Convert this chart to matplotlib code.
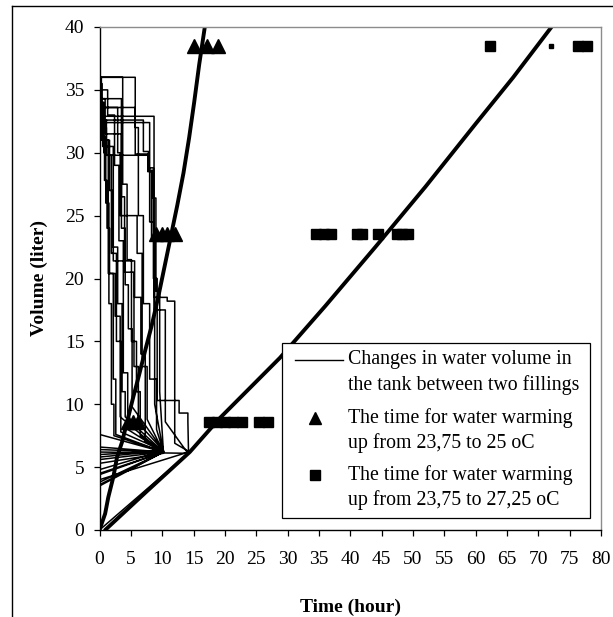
import numpy as np
import matplotlib
matplotlib.use("Agg")
import matplotlib.pyplot as plt
from matplotlib.lines import Line2D
from matplotlib.patches import Rectangle

plt.rcParams['font.family'] = 'Liberation Serif'
plt.rcParams['font.size'] = 14

# volume in the tank between two fillings: fill at t=0 from start to top, then stepwise draws
fill_start = [5.0, 4.5, 3.6, 6.0, 5.6, 0.0, 4.0, 6.2, 6.4, 4.8, 5.3, 3.8, 7.6, 4.4, 5.8, 3.5, 6.6]
fill_top = [36.0, 36.0, 34.3, 33.6, 32.9, 32.6, 32.4, 36.0, 35.5, 34.0, 33.0, 32.6, 36.0, 34.3, 33.6, 32.9, 35.0]
draw_times = [
    [3.7, 4.4, 5.1, 5.9, 6.5],
    [5.7, 6.2, 7.0, 8.0, 9.1],
    [0.9, 3.5, 4.0, 5.5, 6.2],
    [5.7, 7.7, 8.4, 9.0, 9.6],
    [8.7, 10.8, 12.0],
    [7.0, 7.8, 8.6, 9.2, 12.7, 14.1],
    [8.0, 8.7, 10.5],
    [0.3, 0.5, 0.8, 1.2, 1.6, 2.2, 2.6],
    [0.4, 1.1, 1.9, 2.7, 3.4],
    [0.6, 1.4, 2.5, 3.3],
    [0.5, 2.2, 5.6, 6.6, 7.3],
    [1.1, 7.7, 8.3, 8.8],
    [0.2, 0.7, 1.0, 1.5, 1.9, 2.3],
    [3.5, 4.1, 4.6, 5.2],
    [2.9, 3.3, 6.0, 6.8, 7.6],
    [0.3, 1.6, 2.1, 2.9, 3.6, 4.1],
    [1.3, 2.4, 3.1, 3.8, 4.5],
]
draw_levels = [
    [27.5, 21.5, 15.0, 11.0, 7.5],
    [32.0, 25.0, 18.0, 12.0, 8.0],
    [31.5, 26.5, 20.5, 13.0, 8.5],
    [29.9, 28.6, 26.4, 19.0, 11.0],
    [18.5, 18.2, 6.9],
    [30.1, 28.8, 20.0, 10.3, 9.3, 8.6],
    [24.5, 17.5, 8.6],
    [33.0, 31.3, 27.8, 24.0, 20.4, 12.0, 7.6],
    [32.0, 29.8, 22.0, 15.0, 7.8],
    [31.0, 20.4, 17.0, 9.0],
    [30.5, 21.4, 18.5, 14.0, 7.0],
    [29.8, 28.5, 23.0, 10.0],
    [34.0, 30.0, 26.0, 18.0, 10.0, 7.5],
    [24.0, 19.5, 16.0, 9.8],
    [30.0, 25.0, 22.0, 13.0, 8.8],
    [31.0, 27.0, 22.5, 18.0, 11.0, 9.0],
    [33.0, 29.0, 23.0, 12.5, 8.0],
]
end_time = [10.2, 10.2, 10.2, 10.2, 14.4, 14.2, 14.1, 10.2, 10.2, 10.2, 10.2, 10.2, 10.2, 10.2, 10.2, 10.2, 10.2]
end_level = [6.2, 6.2, 6.3, 6.2, 6.2, 6.2, 6.1, 6.2, 6.3, 6.1, 6.2, 6.2, 6.2, 6.3, 6.2, 6.2, 6.2]

# long thick curves
curve_a_t = [0.0, 0.9, 1.4, 2.2, 2.8, 3.6, 4.4, 5.4, 6.3, 7.3, 8.3, 9.4, 10.4, 11.4, 12.4, 13.4, 14.3, 15.1, 15.9, 16.8]
curve_a_v = [0.0, 1.3, 2.6, 4.2, 5.8, 7.0, 8.6, 10.6, 12.3, 14.3, 16.2, 18.6, 21.0, 23.4, 25.8, 28.4, 31.2, 34.0, 37.0, 40.0]
curve_b_t = [0.9, 7.6, 14.4, 19.2, 28.8, 36.0, 44.0, 52.0, 60.0, 66.0, 72.1]
curve_b_v = [0.0, 3.1, 6.2, 8.9, 13.7, 17.8, 22.5, 27.3, 32.3, 36.0, 40.0]

# warming times 23,75 -> 25 oC
tri_t = [15.0, 17.2, 18.9, 9.0, 10.0, 10.8, 12.0, 4.6, 5.4, 6.2]
tri_v = [38.5, 38.5, 38.5, 23.5, 23.5, 23.5, 23.5, 8.6, 8.6, 8.6]
# warming times 23,75 -> 27,25 oC
sq_t = [62.3, 76.4, 77.7, 34.5, 35.8, 37.0, 41.0, 41.8, 44.5, 47.4, 48.3, 49.2,
        17.5, 18.7, 20.0, 21.3, 22.7, 25.4, 26.8]
sq_v = [38.5, 38.5, 38.5, 23.5, 23.5, 23.5, 23.5, 23.5, 23.5, 23.5, 23.5, 23.5,
        8.6, 8.6, 8.6, 8.6, 8.6, 8.6, 8.6]

legend_labels = [
    ["Changes in water volume in", "the tank between two fillings"],
    ["The time for water warming", "up from 23,75 to 25 oC"],
    ["The time for water warming", "up from 23,75 to 27,25 oC"],
]

fig = plt.figure(figsize=(6.13, 6.17), dpi=100)
ax = fig.add_axes([99.5 / 613, 1 - 530 / 617, 501.5 / 613, 503 / 617])

# build the one long series of fill/draw cycles
xs, ys = [], []
for s, top, times, levels, te, ve in zip(fill_start, fill_top, draw_times, draw_levels, end_time, end_level):
    xs += [0, 0]
    ys += [s, top]
    level = top
    for t, v in zip(times, levels):
        xs += [t, t]
        ys += [level, v]
        level = v
    xs.append(te)
    ys.append(ve)
ax.plot(xs, ys, color='black', lw=1.1)

ax.plot(curve_a_t, curve_a_v, color='black', lw=2.8, solid_capstyle='round')
ax.plot(curve_b_t, curve_b_v, color='black', lw=2.8, solid_capstyle='round')

ax.plot(tri_t, tri_v, ls='none', marker='^', ms=10, color='black')
ax.plot(sq_t, sq_v, ls='none', marker='s', ms=7.5, color='black')
ax.plot([72.1], [38.5], ls='none', marker='s', ms=2.5, color='black')

ax.set_xlim(0, 80)
ax.set_ylim(0, 40)
ax.set_xticks(np.arange(0, 81, 5))
ax.set_yticks(np.arange(0, 41, 5))
ax.tick_params(direction='out', length=4, width=0.9, labelsize=14)
ax.tick_params(axis='x', pad=11)
ax.tick_params(axis='y', pad=7)
for side in ['top', 'right']:
    ax.spines[side].set_color('#8c8c8c')
    ax.spines[side].set_linewidth(1.0)
for side in ['left', 'bottom']:
    ax.spines[side].set_linewidth(1.0)

ax.set_xlabel('Time (hour)', fontweight='bold', fontsize=14, labelpad=22)
ax.set_ylabel('Volume (liter)', fontweight='bold', fontsize=14, labelpad=12)

# legend box drawn by hand so the symbols line up with the first text line
ax.add_patch(Rectangle((0.364, 0.024), 0.614, 0.348, transform=ax.transAxes,
                       facecolor='white', edgecolor='black', lw=0.9, zorder=5))
row_y = [0.338, 0.222, 0.109]
ax.plot([0.390, 0.4855], [row_y[0], row_y[0]], transform=ax.transAxes, color='black', lw=1.0, zorder=6)
ax.plot([0.43], [row_y[1]], transform=ax.transAxes, marker='^', ms=9, color='black', zorder=6)
ax.plot([0.43], [row_y[2]], transform=ax.transAxes, marker='s', ms=7, color='black', zorder=6)
for y0, lines in zip(row_y, legend_labels):
    for k, line in enumerate(lines):
        ax.text(0.4955, y0 - k * 0.049, line, transform=ax.transAxes, va='center', ha='left',
                fontsize=14.3, zorder=7)

# outer chart frame
fig.add_artist(Line2D([12 / 613, 12 / 613], [0, 1 - 5.7 / 617], transform=fig.transFigure, color='black', lw=1.0))
fig.add_artist(Line2D([12 / 613, 1], [1 - 5.7 / 617, 1 - 5.7 / 617], transform=fig.transFigure, color='black', lw=1.0))

fig.savefig('out.png', dpi=100)
